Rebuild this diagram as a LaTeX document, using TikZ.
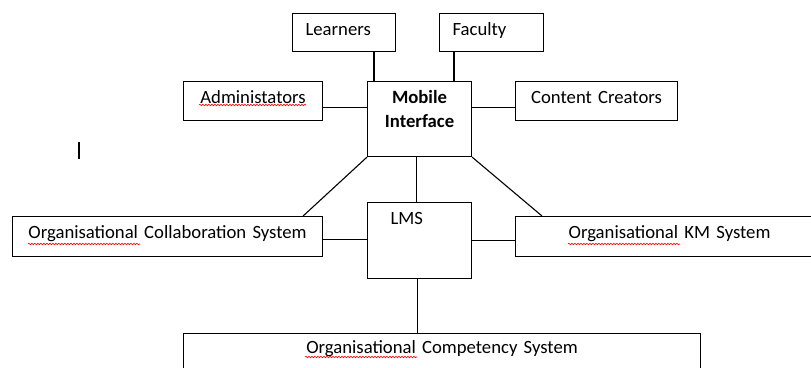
\documentclass[tikz,border=0pt]{standalone}
\usepackage{fontspec}
\setmainfont{Carlito}
\usetikzlibrary{decorations.pathmorphing}
\begin{document}
\begin{tikzpicture}[x=1pt,y=-1pt,line width=1.1pt,
	box/.style={draw,anchor=north west,inner xsep=0pt,inner ysep=0pt,text height=21.5pt,align=center,font=\fontsize{18.7}{24}\selectfont},
	leftbox/.style={box,inner xsep=13pt,align=left},
	squiggle/.style={red,line width=0.6pt,decorate,decoration={snake,amplitude=0.8pt,segment length=3pt}}]
	\useasboundingbox (0,0) rectangle (811,367);
	\clip (0,0) rectangle (811,367);
	% top row
	\node[leftbox,text width=77pt,text depth=16.5pt] (learners) at (292,13) {Learners};
	\node[leftbox,text width=78pt,text depth=16.5pt] (faculty) at (439,13) {Faculty};
	% middle row
	\node[box,text width=139pt,text depth=17.5pt] (admin) at (183,81) {Administators};
	\node[box,text width=104pt,text depth=53.5pt,font=\fontsize{18.7}{24}\selectfont\bfseries] (mobile) at (367,81) {Mobile\\Interface};
	\node[box,text width=162pt,text depth=17.5pt] (content) at (515,81) {Content Creators};
	% lower row
	\node[box,text width=310pt,text depth=18.5pt] (collab) at (12,216) {Organisational Collaboration System};
	\node[leftbox,inner xsep=23pt,text width=58pt,text depth=54.5pt] (lms) at (367,202) {LMS};
	\node[box,text width=308pt,text depth=18.5pt] (km) at (515,216) {Organisational KM System};
	\node[box,text width=517pt,text height=20pt,text depth=40pt] (comp) at (183,333) {Organisational Competency System};
	% connectors
	\draw ([xshift=7pt]mobile.north west) -- ([xshift=7pt]mobile.north west |- learners.south);
	\draw ([xshift=15pt]faculty.south west) -- ([xshift=15pt]faculty.south west |- mobile.north);
	\draw ([yshift=-6pt]admin.east) -- ([yshift=-6pt]admin.east -| mobile.west);
	\draw ([yshift=-6pt]content.west) -- ([yshift=-6pt]content.west -| mobile.east);
	\draw (mobile.south west) -- ([xshift=-20pt]collab.north east);
	\draw (mobile.south east) -- ([xshift=27pt]km.north west);
	\draw ([xshift=-3pt]mobile.south) -- ([xshift=-3pt]lms.north);
	\draw ([yshift=-3pt]collab.east) -- ([yshift=-3pt]collab.east -| lms.west);
	\draw ([yshift=-3.5pt]km.west) -- ([yshift=-3.5pt]km.west -| lms.east);
	\draw ([xshift=-2pt]lms.south) -- ([xshift=-2pt]lms.south |- comp.north);
	% spelling marks
	\draw[squiggle] (199,105) -- (306,105);
	\draw[squiggle] (28,244) -- (140,244);
	\draw[squiggle] (568,244) -- (680,244);
	\draw[squiggle] (305,357) -- (417,357);
	% text cursor
	\draw[line width=1.5pt] (79,142) -- (79,159);
\end{tikzpicture}
\end{document}
